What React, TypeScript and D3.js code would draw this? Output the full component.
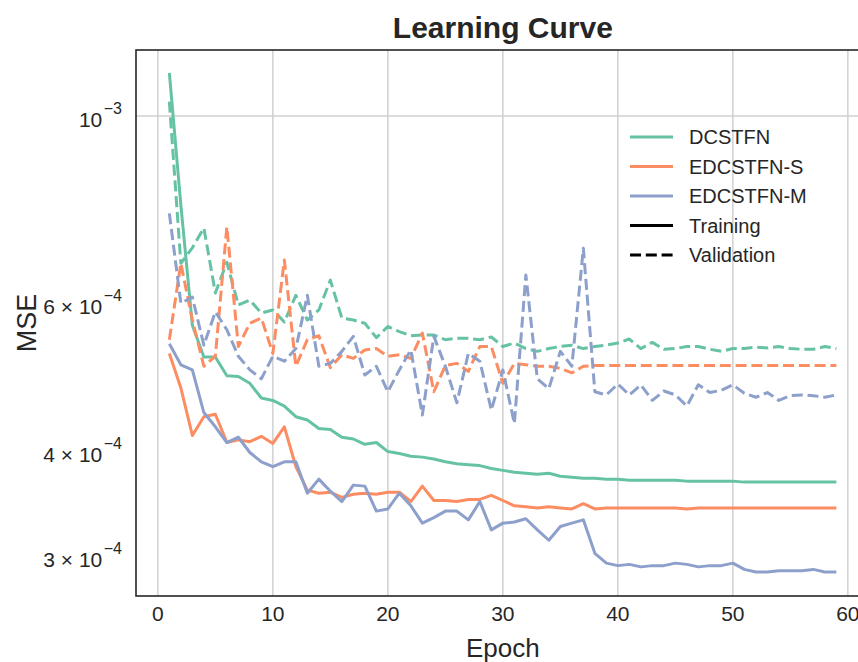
import React from 'react';
import * as d3 from 'd3';

// Values are MSE in units of 1e-4
const EPOCHS = d3.range(1, 60);
const X_TICKS = [0, 10, 20, 30, 40, 50, 60];
const Y_TICKS = [1e-3, 6e-4, 4e-4, 3e-4];
const Y_TICK_MANT = ['10', '6 × 10', '4 × 10', '3 × 10'];
const Y_TICK_EXP = ['−3', '−4', '−4', '−4'];
const Y_GRID = [1e-3];
const MODELS = ['DCSTFN', 'EDCSTFN-S', 'EDCSTFN-M'];
const COLORS = ['#66c2a5', '#fc8d62', '#8da0cb'];

const DCSTFN_TRAIN = [11.25, 7.84, 5.64, 5.17, 5.17, 4.91, 4.90, 4.81, 4.62, 4.59, 4.52, 4.39, 4.35, 4.25, 4.24, 4.15, 4.13, 4.07, 4.09, 3.99, 3.97, 3.94, 3.93, 3.91, 3.88, 3.86, 3.85, 3.84, 3.81, 3.79, 3.77, 3.76, 3.75, 3.76, 3.73, 3.72, 3.71, 3.71, 3.70, 3.70, 3.69, 3.69, 3.69, 3.69, 3.69, 3.68, 3.68, 3.68, 3.68, 3.68, 3.67, 3.67, 3.67, 3.67, 3.67, 3.67, 3.67, 3.67, 3.67];
const EDCSTFN_S_TRAIN = [5.22, 4.75, 4.17, 4.39, 4.42, 4.09, 4.12, 4.10, 4.16, 4.08, 4.27, 3.83, 3.59, 3.56, 3.57, 3.52, 3.55, 3.56, 3.55, 3.57, 3.57, 3.48, 3.63, 3.49, 3.49, 3.48, 3.50, 3.50, 3.54, 3.49, 3.44, 3.43, 3.42, 3.43, 3.42, 3.41, 3.46, 3.41, 3.42, 3.42, 3.42, 3.42, 3.42, 3.42, 3.42, 3.41, 3.42, 3.42, 3.42, 3.42, 3.42, 3.42, 3.42, 3.42, 3.42, 3.42, 3.42, 3.42, 3.42];
const EDCSTFN_M_TRAIN = [5.36, 5.06, 4.99, 4.44, 4.27, 4.09, 4.15, 3.98, 3.88, 3.83, 3.88, 3.88, 3.56, 3.70, 3.58, 3.48, 3.64, 3.63, 3.39, 3.41, 3.56, 3.44, 3.28, 3.33, 3.39, 3.39, 3.31, 3.48, 3.22, 3.28, 3.29, 3.32, 3.22, 3.13, 3.25, 3.28, 3.31, 3.02, 2.94, 2.92, 2.93, 2.91, 2.92, 2.92, 2.94, 2.93, 2.91, 2.92, 2.92, 2.94, 2.89, 2.87, 2.87, 2.88, 2.88, 2.88, 2.89, 2.87, 2.87];
const DCSTFN_VAL = [10.40, 6.68, 6.97, 7.36, 6.16, 6.70, 5.96, 6.04, 5.83, 5.88, 5.69, 6.12, 5.72, 5.88, 6.38, 5.75, 5.72, 5.67, 5.45, 5.62, 5.54, 5.48, 5.49, 5.49, 5.42, 5.44, 5.44, 5.42, 5.46, 5.32, 5.37, 5.29, 5.25, 5.29, 5.32, 5.34, 5.29, 5.32, 5.34, 5.37, 5.43, 5.29, 5.38, 5.28, 5.29, 5.32, 5.32, 5.28, 5.25, 5.29, 5.29, 5.31, 5.30, 5.32, 5.29, 5.28, 5.28, 5.32, 5.29];
const EDCSTFN_S_VAL = [5.42, 6.68, 5.72, 5.04, 5.18, 7.38, 5.32, 5.67, 5.75, 5.22, 6.74, 5.04, 5.42, 5.48, 5.02, 5.20, 5.15, 5.27, 5.29, 5.18, 5.20, 5.15, 5.52, 4.70, 5.05, 5.08, 4.97, 5.32, 5.32, 4.81, 5.08, 5.06, 5.04, 5.04, 5.01, 4.95, 5.04, 5.05, 5.05, 5.05, 5.05, 5.05, 5.05, 5.05, 5.05, 5.05, 5.05, 5.05, 5.05, 5.05, 5.05, 5.05, 5.05, 5.05, 5.05, 5.05, 5.05, 5.05, 5.05];
const EDCSTFN_M_VAL = [7.66, 5.99, 6.09, 5.34, 5.85, 5.57, 5.18, 4.99, 4.87, 5.18, 5.11, 5.29, 6.12, 5.04, 5.08, 5.25, 5.47, 4.92, 5.04, 4.70, 4.99, 5.27, 4.41, 5.47, 5.04, 4.56, 5.22, 5.11, 4.47, 4.99, 4.31, 6.47, 4.87, 4.74, 5.25, 5.04, 6.96, 4.70, 4.66, 4.80, 4.66, 4.79, 4.59, 4.71, 4.66, 4.52, 4.79, 4.69, 4.72, 4.79, 4.68, 4.63, 4.69, 4.59, 4.65, 4.66, 4.65, 4.63, 4.66];

const TRAIN = [DCSTFN_TRAIN, EDCSTFN_S_TRAIN, EDCSTFN_M_TRAIN];
const VAL = [DCSTFN_VAL, EDCSTFN_S_VAL, EDCSTFN_M_VAL];

const W = 858;
const H = 662;
const L = 136;
const T = 50;
const B = 596;
const R = 869.7;
const FONT = '"Liberation Sans", Arial, Helvetica, sans-serif';

export default function App() {
  const x = d3.scaleLinear().domain([-1.9, 61.9]).range([L, R]);
  const y = d3.scaleLog().domain([2.687e-4, 1.198e-3]).range([B, T]);
  const line = d3
    .line<number>()
    .x((_, i) => x(EPOCHS[i]))
    .y((d) => y(d * 1e-4));

  const legendItems = [
    ...MODELS.map((m, i) => ({ label: m, color: COLORS[i], dash: undefined as string | undefined })),
    { label: 'Training', color: '#000', dash: undefined },
    { label: 'Validation', color: '#000', dash: '11 4.8' },
  ];

  return (
    <svg
      width={W}
      height={H}
      style={{ position: 'absolute', left: 0, top: 0, background: '#fff' }}
      fontFamily={FONT}
    >
      <rect x={0} y={0} width={W} height={H} fill="#fff" />
      {/* grid */}
      {X_TICKS.map((t) => (
        <line key={'gx' + t} x1={x(t)} x2={x(t)} y1={T} y2={B} stroke="#d0d0d0" strokeWidth={1.5} />
      ))}
      {Y_GRID.map((t) => (
        <line key={'gy' + t} x1={L} x2={R} y1={y(t)} y2={y(t)} stroke="#d0d0d0" strokeWidth={1.5} />
      ))}
      {/* series */}
      {MODELS.map((m, i) => (
        <g key={m}>
          <path
            d={line(TRAIN[i]) || ''}
            fill="none"
            stroke={COLORS[i]}
            strokeWidth={3}
            strokeLinejoin="round"
          />
          <path
            d={line(VAL[i]) || ''}
            fill="none"
            stroke={COLORS[i]}
            strokeWidth={3}
            strokeDasharray="11 4.8"
            strokeLinejoin="round"
          />
        </g>
      ))}
      {/* spines */}
      <rect x={L} y={T} width={R - L} height={B - T} fill="none" stroke="#262626" strokeWidth={1.6} />
      {/* x tick labels */}
      {X_TICKS.map((t) => (
        <text key={'xt' + t} x={x(t)} y={621} textAnchor="middle" fontSize={21} fill="#262626">
          {t}
        </text>
      ))}
      {/* y tick labels */}
      {Y_TICKS.map((t, i) => (
        <text key={'yt' + t} x={122} y={y(t) + 11.5} textAnchor="end" fontSize={21} fill="#262626">
          <tspan>{Y_TICK_MANT[i]}</tspan>
          <tspan dx={1.5} dy={-13} fontSize={16}>
            {Y_TICK_EXP[i]}
          </tspan>
        </text>
      ))}
      {/* axis labels */}
      <text x={(L + R) / 2} y={657} textAnchor="middle" fontSize={26} fill="#262626">
        Epoch
      </text>
      <text
        transform={`translate(36,${(T + B) / 2}) rotate(-90)`}
        textAnchor="middle"
        fontSize={27}
        fill="#262626"
      >
        MSE
      </text>
      {/* title */}
      <text x={(L + R) / 2} y={38} textAnchor="middle" fontSize={30} fontWeight="bold" fill="#262626">
        Learning Curve
      </text>
      {/* legend */}
      {legendItems.map((it, i) => {
        const cy = 137 + i * 29.5;
        return (
          <g key={it.label}>
            <line
              x1={630}
              x2={673}
              y1={cy}
              y2={cy}
              stroke={it.color}
              strokeWidth={3}
              strokeDasharray={it.dash}
            />
            <text x={689} y={cy + 7} fontSize={20} fill="#262626">
              {it.label}
            </text>
          </g>
        );
      })}
    </svg>
  );
}
